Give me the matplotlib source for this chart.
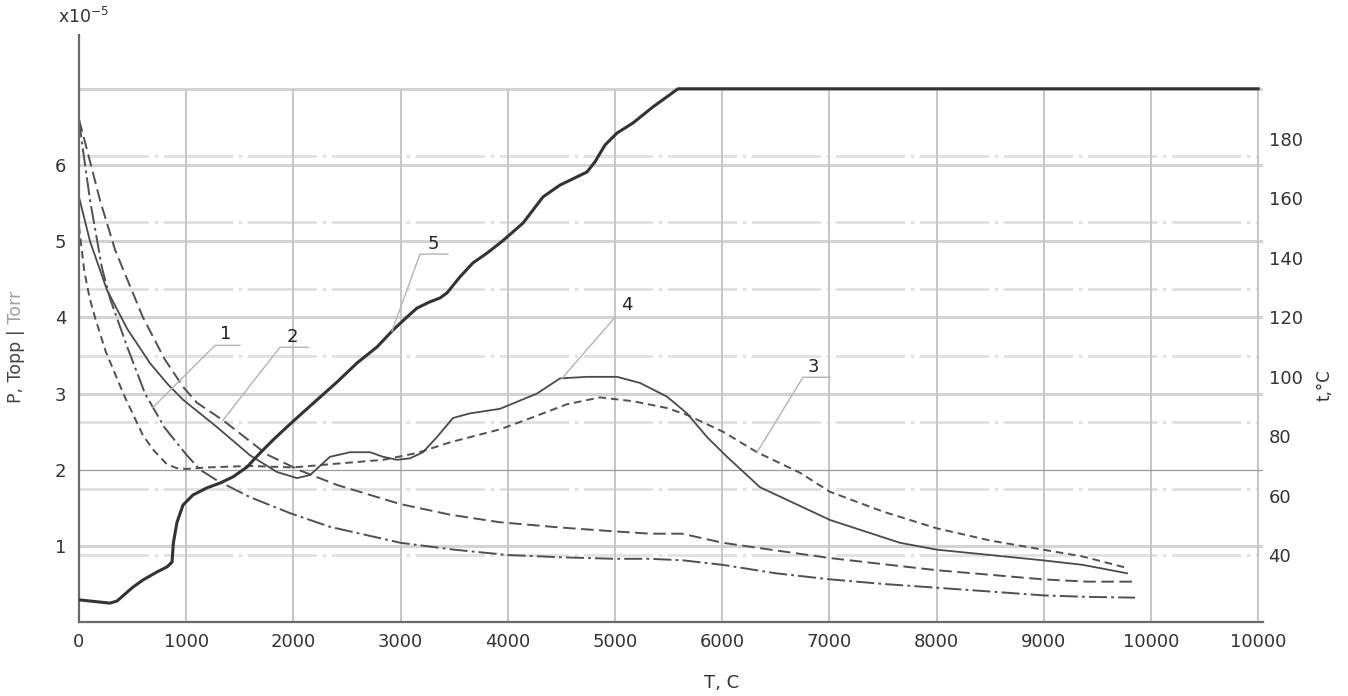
import numpy as np
import matplotlib
matplotlib.use("Agg")
import matplotlib.pyplot as plt
import matplotlib.transforms as mtransforms
from matplotlib.lines import Line2D

plt.rcParams["lines.scale_dashes"] = False

W, H = 1348, 696

# axis ticks
x_ticks = list(range(0, 11001, 1000))
x_tick_labels = [str(v) for v in range(0, 10001, 1000)] + ["10000"]
p_ticks = [1, 2, 3, 4, 5, 6]
t_ticks = [40, 60, 80, 100, 120, 140, 160, 180]

# curve 1 (dash-dot), pressure x1e-5 Torr
c1_x = [0, 37, 103, 213, 289, 448, 616, 800, 1000, 1129, 1287, 1595, 1968, 2341, 3000,
        3500, 4000, 4500, 5000, 5326, 5634, 6007, 6500, 7006, 7500, 8003, 8500, 8993, 9400, 9851]
c1_y = [6.6, 6.2, 5.54, 4.66, 4.25, 3.62, 3.0, 2.55, 2.2, 2.0, 1.86, 1.64, 1.43, 1.25, 1.04,
        0.95, 0.88, 0.85, 0.83, 0.83, 0.81, 0.75, 0.64, 0.56, 0.5, 0.45, 0.4, 0.35, 0.33, 0.32]

# curve 2 (dashed)
c2_x = [0, 75, 196, 336, 597, 800, 970, 1100, 1343, 1754, 2062, 2407, 2994, 3461, 3927,
        4500, 5000, 5326, 5625, 6007, 6500, 7006, 7500, 8003, 8500, 8993, 9400, 9851]
c2_y = [6.6, 6.2, 5.54, 4.89, 4.0, 3.45, 3.09, 2.88, 2.65, 2.2, 1.99, 1.8, 1.55, 1.41, 1.31,
        1.24, 1.19, 1.16, 1.16, 1.04, 0.94, 0.84, 0.76, 0.68, 0.62, 0.56, 0.53, 0.53]

# curve 3 (short dashes)
c3_x = [0, 50, 100, 149, 250, 429, 597, 700, 821, 914, 1000, 1194, 1595, 1996, 2407, 2836,
        3153, 3461, 3927, 4235, 4552, 4860, 5168, 5485, 5672, 6007, 6325, 6726, 7006, 7500,
        8003, 8500, 8993, 9366, 9776]
c3_y = [5.2, 4.6, 4.25, 4.0, 3.55, 2.95, 2.45, 2.25, 2.07, 2.02, 2.01, 2.03, 2.05, 2.03, 2.08,
        2.13, 2.22, 2.36, 2.53, 2.69, 2.86, 2.95, 2.9, 2.81, 2.72, 2.5, 2.23, 1.96, 1.71, 1.45,
        1.23, 1.07, 0.95, 0.86, 0.71]

# curve 4 (solid thin)
c4_x = [0, 103, 261, 450, 662, 830, 970, 1287, 1595, 1847, 2034, 2155, 2341, 2528, 2715,
        2836, 2966, 3088, 3209, 3340, 3489, 3647, 3927, 4272, 4487, 4739, 5019, 5233, 5485,
        5672, 5858, 6045, 6353, 7006, 7659, 8003, 8993, 9366, 9776]
c4_y = [5.58, 5.0, 4.36, 3.85, 3.4, 3.12, 2.92, 2.56, 2.19, 1.97, 1.89, 1.93, 2.17, 2.23, 2.23,
        2.17, 2.13, 2.15, 2.23, 2.43, 2.68, 2.74, 2.8, 3.0, 3.2, 3.22, 3.22, 3.14, 2.96,
        2.74, 2.43, 2.17, 1.77, 1.34, 1.04, 0.95, 0.81, 0.75, 0.64]

# curve 5 (thick solid), temperature in C, right axis
c5_x = [0, 289, 354, 504, 597, 728, 821, 868, 880, 914, 970, 1063, 1194, 1315, 1437, 1567,
        1688, 1810, 1940, 2062, 2220, 2407, 2593, 2780, 2929, 3060, 3153, 3274, 3368, 3433,
        3554, 3675, 3806, 3927, 3993, 4142, 4328, 4487, 4739, 4813, 4907, 5019, 5168, 5354,
        5485, 5588, 11000]
c5_y = [24.9, 23.8, 24.5, 29.2, 31.6, 34.3, 36.0, 37.6, 44, 51, 56.8, 60.2, 62.6, 64.2, 66.3,
        69.6, 74.3, 78.7, 83.1, 87.1, 92.2, 98.2, 104.6, 110, 115.7, 120.1, 123.1, 125.2,
        126.5, 128.2, 133.6, 138.3, 141.6, 145, 147, 151.7, 160.5, 164.5, 168.9, 172.3, 178,
        182, 185.4, 190.8, 194.2, 196.9, 196.9]

fig = plt.figure(figsize=(W / 100, H / 100), dpi=100)
ax = fig.add_axes([79 / W, 74 / H, 1184 / W, 587 / H])
ax.set_xlim(0, 11045)
ax.set_ylim(0, 7.71)

# grid
ax.hlines([1, 3, 4, 5, 6, 7], 0, 11045, colors="#d3d3d3", lw=2.2, zorder=0.5)
ax.hlines([2], 0, 11045, colors="#9c9c9c", lw=0.9, zorder=0.6)
ax.hlines(np.arange(1, 8) * 7 / 8, 0, 11000, colors="#e0e0e0", lw=2.0,
          linestyles=[(0, (50, 4, 2.5, 4))], zorder=0.5)
ax.vlines(x_ticks[1:], 0, 7, colors="#c6c6c6", lw=1.4, zorder=0.5)

ax.plot(c1_x, c1_y, color="#505050", lw=1.4, ls=(0, (13, 3, 2, 3)), zorder=2)
ax.plot(c2_x, c2_y, color="#505050", lw=1.4, ls=(0, (9, 4)), zorder=2)
ax.plot(c3_x, c3_y, color="#505050", lw=1.4, ls=(0, (5.5, 3.5)), zorder=2)
ax.plot(c4_x, c4_y, color="#4a4a4a", lw=1.3, zorder=2)

ax.set_xticks(x_ticks)
ax.set_xticklabels(x_tick_labels)
ax.set_yticks(p_ticks)
ax.tick_params(length=0, labelsize=13, colors="#333333")
ax.tick_params(axis="x", pad=8)
ax.tick_params(axis="y", pad=9)
for s in ["top", "right"]:
    ax.spines[s].set_visible(False)
for s in ["left", "bottom"]:
    ax.spines[s].set_color("#6a6a6a")
    ax.spines[s].set_linewidth(1.6)

ax2 = ax.twinx()
ax2.set_ylim(17.45, 215.0)
ax2.set_yticks(t_ticks)
ax2.tick_params(length=0, labelsize=13, colors="#333333", pad=4)
for s in ax2.spines.values():
    s.set_visible(False)
ax2.plot(c5_x, c5_y, color="#333333", lw=2.2, zorder=3)


def leader(axis, xs, ys, x0, dx, dy, hw, tx, ty, label):
    y0 = np.interp(x0, xs, ys)
    px, py = axis.transData.transform((x0, y0))
    tr = mtransforms.Affine2D().translate(px, py)
    fig.add_artist(Line2D([0, dx, dx + hw], [0, dy, dy], transform=tr,
                          color="#b4b4b4", lw=1.0))
    fig.text(tx, ty, label, transform=tr, ha="center", va="center",
             fontsize=13, color="#222222")


leader(ax, c1_x, c1_y, 690, 62, 62, 25, 73, 73, "1")
leader(ax, c2_x, c2_y, 1343, 57, 73, 28, 69, 83, "2")
leader(ax, c3_x, c3_y, 6325, 46, 75, 27, 56, 85, "3")
leader(ax, c4_x, c4_y, 4506, 53, 61, 0, 65, 73, "4")
leader(ax2, c5_x, c5_y, 2920, 28, 77, 28, 41, 87, "5")

# labels
fig.text(58 / W, 1 - 23 / H, "x10$^{-5}$", ha="left", va="baseline",
         fontsize=12.5, color="#333333")
t1 = fig.text(16 / W, 1 - 403 / H, "P, Topp |", rotation=90, ha="center",
              va="bottom", fontsize=12.5, color="#444444")
ax.annotate(" Torr", xy=(0.5, 1.0), xycoords=t1, rotation=90, ha="center",
            va="bottom", fontsize=12.5, color="#a0a0a0", annotation_clip=False)
fig.text(1324 / W, 1 - 385 / H, "t,°C", rotation=90, ha="center", va="center",
         fontsize=12, color="#333333")
fig.text(722 / W, 1 - 683 / H, "T, C", ha="center", va="center",
         fontsize=13, color="#333333")

fig.savefig("out.png", dpi=100)
